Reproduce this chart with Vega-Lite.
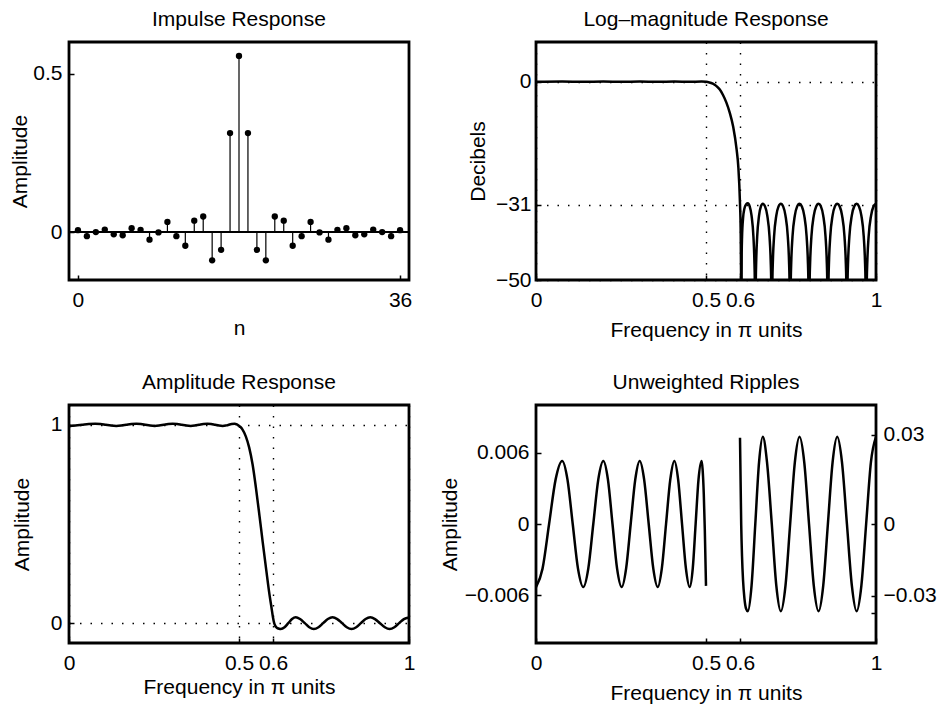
{
  "$schema": "https://vega.github.io/schema/vega-lite/v6.json",
  "padding": {"left": 8, "top": 7, "right": 5, "bottom": 2},
  "background": "white",
  "config": {
    "font": "Liberation Sans",
    "view": {"stroke": "black", "strokeWidth": 2.8},
    "axis": {
      "domain": false, "grid": false,
      "labelFont": "Liberation Sans", "labelFontSize": 21, "labelColor": "black",
      "titleFont": "Liberation Sans", "titleFontSize": 21, "titleFontWeight": "normal", "titleColor": "black",
      "tickColor": "black", "tickSize": -5, "tickWidth": 1.5,
      "labelFlush": false, "labelOverlap": false, "labelBound": false,
      "gridColor": "black", "gridDash": [1.5, 9], "gridOpacity": 1, "gridWidth": 1.4
    },
    "axisX": {"labelPadding": 14, "titleBaseline": "alphabetic"},
    "axisY": {"labelPadding": 12, "titleBaseline": "middle"},
    "title": {"font": "Liberation Sans", "fontSize": 21, "fontWeight": "normal", "color": "black", "anchor": "middle", "frame": "group", "offset": 12, "baseline": "alphabetic"}
  },
  "datasets": {
    "imp": [
      {"n":0,"h":0.007},{"n":1,"h":-0.012},{"n":2,"h":0.001},{"n":3,"h":0.009},{"n":4,"h":-0.006},{"n":5,"h":-0.009},
      {"n":6,"h":0.013},{"n":7,"h":0.008},{"n":8,"h":-0.023},{"n":9,"h":0.0},{"n":10,"h":0.033},{"n":11,"h":-0.012},
      {"n":12,"h":-0.042},{"n":13,"h":0.037},{"n":14,"h":0.05},{"n":15,"h":-0.088},{"n":16,"h":-0.055},{"n":17,"h":0.313},
      {"n":18,"h":0.556},{"n":19,"h":0.313},{"n":20,"h":-0.055},{"n":21,"h":-0.088},{"n":22,"h":0.05},{"n":23,"h":0.037},
      {"n":24,"h":-0.042},{"n":25,"h":-0.012},{"n":26,"h":0.033},{"n":27,"h":0.0},{"n":28,"h":-0.023},{"n":29,"h":0.008},
      {"n":30,"h":0.013},{"n":31,"h":-0.009},{"n":32,"h":-0.006},{"n":33,"h":0.009},{"n":34,"h":0.001},{"n":35,"h":-0.012},{"n":36,"h":0.007}
    ],
    "db": [
      {"w":0,"db":-0.046},{"w":0.077,"db":0.046},{"w":0.139,"db":-0.046},{"w":0.198,"db":0.046},{"w":0.252,"db":-0.046},
      {"w":0.305,"db":0.046},{"w":0.358,"db":-0.046},{"w":0.407,"db":0.046},{"w":0.452,"db":-0.046},{"w":0.487,"db":0.046},
      {"w":0.5,"db":-0.045},{"w":0.505,"db":-0.105},{"w":0.51,"db":-0.2},{"w":0.52,"db":-0.52},{"w":0.53,"db":-1.06},
      {"w":0.54,"db":-1.94},{"w":0.55,"db":-3.35},{"w":0.56,"db":-5.27},{"w":0.57,"db":-7.85},{"w":0.58,"db":-11.37},
      {"w":0.59,"db":-17.08},{"w":0.595,"db":-21.41},{"w":0.6,"db":-30.75},{"w":0.6018,"db":-36.8},{"w":0.603,"db":-47.7},
      {"w":0.6035,"db":-80},
      {"w":0.605,"db":-43.3},{"w":0.606,"db":-39.2},{"w":0.609,"db":-34.4},{"w":0.613,"db":-32.0},{"w":0.618,"db":-30.9},{"w":0.623,"db":-30.66},
      {"w":0.6285,"db":-31.44},{"w":0.634,"db":-33.76},{"w":0.6395,"db":-39.09},{"w":0.64225,"db":-44.95},{"w":0.64363,"db":-50.9},{"w":0.645,"db":-80},
      {"w":0.64638,"db":-50.9},{"w":0.64775,"db":-44.95},{"w":0.6505,"db":-39.09},{"w":0.656,"db":-33.76},{"w":0.6615,"db":-31.44},{"w":0.667,"db":-30.75},
      {"w":0.67363,"db":-31.44},{"w":0.68025,"db":-33.76},{"w":0.68688,"db":-39.09},{"w":0.69019,"db":-44.95},{"w":0.69184,"db":-50.9},{"w":0.6935,"db":-80},
      {"w":0.69516,"db":-50.9},{"w":0.69681,"db":-44.95},{"w":0.70013,"db":-39.09},{"w":0.70675,"db":-33.76},{"w":0.71338,"db":-31.44},{"w":0.72,"db":-30.75},
      {"w":0.72688,"db":-31.44},{"w":0.73375,"db":-33.76},{"w":0.74063,"db":-39.09},{"w":0.74406,"db":-44.95},{"w":0.74578,"db":-50.9},{"w":0.7475,"db":-80},
      {"w":0.74922,"db":-50.9},{"w":0.75094,"db":-44.95},{"w":0.75438,"db":-39.09},{"w":0.76125,"db":-33.76},{"w":0.76813,"db":-31.44},{"w":0.775,"db":-30.75},
      {"w":0.782,"db":-31.44},{"w":0.789,"db":-33.76},{"w":0.796,"db":-39.09},{"w":0.7995,"db":-44.95},{"w":0.80125,"db":-50.9},{"w":0.803,"db":-80},
      {"w":0.80475,"db":-50.9},{"w":0.8065,"db":-44.95},{"w":0.81,"db":-39.09},{"w":0.817,"db":-33.76},{"w":0.824,"db":-31.44},{"w":0.831,"db":-30.75},
      {"w":0.83788,"db":-31.44},{"w":0.84475,"db":-33.76},{"w":0.85163,"db":-39.09},{"w":0.85506,"db":-44.95},{"w":0.85678,"db":-50.9},{"w":0.8585,"db":-80},
      {"w":0.86022,"db":-50.9},{"w":0.86194,"db":-44.95},{"w":0.86538,"db":-39.09},{"w":0.87225,"db":-33.76},{"w":0.87913,"db":-31.44},{"w":0.886,"db":-30.75},
      {"w":0.89313,"db":-31.44},{"w":0.90025,"db":-33.76},{"w":0.90738,"db":-39.09},{"w":0.91094,"db":-44.95},{"w":0.91272,"db":-50.9},{"w":0.9145,"db":-80},
      {"w":0.91628,"db":-50.9},{"w":0.91806,"db":-44.95},{"w":0.92163,"db":-39.09},{"w":0.92875,"db":-33.76},{"w":0.93588,"db":-31.44},{"w":0.943,"db":-30.75},
      {"w":0.95,"db":-31.44},{"w":0.957,"db":-33.76},{"w":0.964,"db":-39.09},{"w":0.9675,"db":-44.95},{"w":0.96925,"db":-50.9},{"w":0.971,"db":-80},
      {"w":0.97281,"db":-50.9},{"w":0.97463,"db":-44.95},{"w":0.97825,"db":-39.09},{"w":0.9855,"db":-33.76},{"w":0.99275,"db":-31.44},{"w":1.0,"db":-30.75}
    ],
    "amp": [
      {"w":0,"a":0.9947},{"w":0.01925,"a":0.99625},{"w":0.0385,"a":1},{"w":0.05775,"a":1.00375},{"w":0.077,"a":1.0053},
      {"w":0.0925,"a":1.00375},{"w":0.108,"a":1},{"w":0.1235,"a":0.99625},{"w":0.139,"a":0.9947},
      {"w":0.15375,"a":0.99625},{"w":0.1685,"a":1},{"w":0.18325,"a":1.00375},{"w":0.198,"a":1.0053},
      {"w":0.2115,"a":1.00375},{"w":0.225,"a":1},{"w":0.2385,"a":0.99625},{"w":0.252,"a":0.9947},
      {"w":0.265,"a":0.99625},{"w":0.2785,"a":1},{"w":0.292,"a":1.00375},{"w":0.305,"a":1.0053},
      {"w":0.318,"a":1.00375},{"w":0.3315,"a":1},{"w":0.345,"a":0.99625},{"w":0.358,"a":0.9947},
      {"w":0.37,"a":0.99625},{"w":0.3825,"a":1},{"w":0.395,"a":1.00375},{"w":0.407,"a":1.0053},
      {"w":0.418,"a":1.00375},{"w":0.4295,"a":1},{"w":0.441,"a":0.99625},{"w":0.452,"a":0.9947},
      {"w":0.461,"a":0.99625},{"w":0.4695,"a":1},{"w":0.478,"a":1.00375},{"w":0.487,"a":1.0053},
      {"w":0.49,"a":1.0046},{"w":0.4935,"a":1.0025},{"w":0.4965,"a":0.9995},{"w":0.5,"a":0.9948},
      {"w":0.505,"a":0.988},{"w":0.51,"a":0.977},{"w":0.52,"a":0.942},{"w":0.53,"a":0.885},{"w":0.54,"a":0.8},
      {"w":0.55,"a":0.68},{"w":0.56,"a":0.545},{"w":0.57,"a":0.405},{"w":0.58,"a":0.27},{"w":0.59,"a":0.14},
      {"w":0.595,"a":0.085},{"w":0.6,"a":0.029},
      {"w":0.6035,"a":0},{"w":0.606,"a":-0.011},{"w":0.609,"a":-0.019},{"w":0.613,"a":-0.025},{"w":0.618,"a":-0.0285},{"w":0.623,"a":-0.0293},
      {"w":0.634,"a":-0.0207},{"w":0.645,"a":0},{"w":0.656,"a":0.0207},{"w":0.667,"a":0.0293},
      {"w":0.6795,"a":0.0207},{"w":0.6935,"a":0},{"w":0.7068,"a":-0.0207},{"w":0.72,"a":-0.0293},
      {"w":0.7338,"a":-0.0207},{"w":0.7475,"a":0},{"w":0.7613,"a":0.0207},{"w":0.775,"a":0.0293},
      {"w":0.789,"a":0.0207},{"w":0.803,"a":0},{"w":0.817,"a":-0.0207},{"w":0.831,"a":-0.0293},
      {"w":0.8448,"a":-0.0207},{"w":0.8585,"a":0},{"w":0.8723,"a":0.0207},{"w":0.886,"a":0.0293},
      {"w":0.9,"a":0.0207},{"w":0.9145,"a":0},{"w":0.929,"a":-0.0207},{"w":0.943,"a":-0.0293},
      {"w":0.957,"a":-0.0207},{"w":0.971,"a":0},{"w":0.985,"a":0.0207},{"w":1.0,"a":0.0293}
    ],
    "pb": [
      {"w":0,"e":-0.0053},{"w":0.01925,"e":-0.00375},{"w":0.0385,"e":0},{"w":0.05775,"e":0.00375},{"w":0.077,"e":0.0053},
      {"w":0.0925,"e":0.00375},{"w":0.108,"e":0},{"w":0.1235,"e":-0.00375},{"w":0.139,"e":-0.0053},
      {"w":0.15375,"e":-0.00375},{"w":0.1685,"e":0},{"w":0.18325,"e":0.00375},{"w":0.198,"e":0.0053},
      {"w":0.2115,"e":0.00375},{"w":0.225,"e":0},{"w":0.2385,"e":-0.00375},{"w":0.252,"e":-0.0053},
      {"w":0.265,"e":-0.00375},{"w":0.2785,"e":0},{"w":0.292,"e":0.00375},{"w":0.305,"e":0.0053},
      {"w":0.318,"e":0.00375},{"w":0.3315,"e":0},{"w":0.345,"e":-0.00375},{"w":0.358,"e":-0.0053},
      {"w":0.37,"e":-0.00375},{"w":0.3825,"e":0},{"w":0.395,"e":0.00375},{"w":0.407,"e":0.0053},
      {"w":0.418,"e":0.00375},{"w":0.4295,"e":0},{"w":0.441,"e":-0.00375},{"w":0.452,"e":-0.0053},
      {"w":0.461,"e":-0.00375},{"w":0.4695,"e":0},{"w":0.478,"e":0.00375},{"w":0.487,"e":0.0053},
      {"w":0.49,"e":0.0046},{"w":0.4935,"e":0.0025},{"w":0.4965,"e":-0.0005},{"w":0.5,"e":-0.0052}
    ],
    "sb": [
      {"w":0.6,"e":0.029},{"w":0.6035,"e":0},{"w":0.606,"e":-0.011},{"w":0.609,"e":-0.019},{"w":0.613,"e":-0.025},{"w":0.618,"e":-0.0285},{"w":0.623,"e":-0.0293},
      {"w":0.634,"e":-0.0207},{"w":0.645,"e":0},{"w":0.656,"e":0.0207},{"w":0.667,"e":0.0293},
      {"w":0.6795,"e":0.0207},{"w":0.6935,"e":0},{"w":0.7068,"e":-0.0207},{"w":0.72,"e":-0.0293},
      {"w":0.7338,"e":-0.0207},{"w":0.7475,"e":0},{"w":0.7613,"e":0.0207},{"w":0.775,"e":0.0293},
      {"w":0.789,"e":0.0207},{"w":0.803,"e":0},{"w":0.817,"e":-0.0207},{"w":0.831,"e":-0.0293},
      {"w":0.8448,"e":-0.0207},{"w":0.8585,"e":0},{"w":0.8723,"e":0.0207},{"w":0.886,"e":0.0293},
      {"w":0.9,"e":0.0207},{"w":0.9145,"e":0},{"w":0.929,"e":-0.0207},{"w":0.943,"e":-0.0293},
      {"w":0.957,"e":-0.0207},{"w":0.971,"e":0},{"w":0.985,"e":0.0207},{"w":1.0,"e":0.0293}
    ]
  },
  "columns": 2,
  "spacing": {"row": 125, "column": 127},
  "bounds": "flush",
  "concat": [
    {
      "width": 340, "height": 238,
      "title": {"text": "Impulse Response"},
      "data": {"name": "imp"},
      "layer": [
        {
          "mark": {"type": "rule", "color": "black", "strokeWidth": 1.3},
          "encoding": {
            "y": {"datum": 0, "type": "quantitative", "scale": {"domain": [-0.15, 0.6], "nice": false, "zero": false},
                  "axis": {"values": [0, 0.5], "format": ".6~g", "grid": false, "title": "Amplitude", "titleX": -48.5}}
          }
        },
        {
          "mark": {"type": "rule", "color": "black", "strokeWidth": 1.2},
          "encoding": {
            "x": {"field": "n", "type": "quantitative", "scale": {"domain": [-1, 37], "nice": false, "zero": false},
                  "axis": {"values": [0, 36], "format": ".6~g", "grid": false, "title": "n", "titleY": 54}},
            "y": {"field": "h", "type": "quantitative", "scale": {"domain": [-0.15, 0.6], "nice": false, "zero": false},
                  "axis": {"values": [0, 0.5], "format": ".6~g", "grid": false, "title": "Amplitude", "titleX": -48.5}},
            "y2": {"datum": 0}
          }
        },
        {
          "mark": {"type": "point", "filled": true, "color": "black", "size": 40, "opacity": 1},
          "encoding": {
            "x": {"field": "n", "type": "quantitative", "axis": {"values": [0, 36], "format": ".6~g", "grid": false, "title": "n", "titleY": 54}},
            "y": {"field": "h", "type": "quantitative", "axis": {"values": [0, 0.5], "format": ".6~g", "grid": false, "title": "Amplitude", "titleX": -48.5}}
          }
        }
      ]
    },
    {
      "width": 340, "height": 238,
      "title": {"text": "Log–magnitude Response"},
      "data": {"name": "db"},
      "mark": {"type": "line", "color": "black", "strokeWidth": 2.5, "interpolate": "monotone", "clip": true},
      "encoding": {
        "x": {"field": "w", "type": "quantitative", "scale": {"domain": [0, 1], "nice": false},
              "axis": {"values": [0, 0.5, 0.6, 1], "format": ".6~g", "grid": true, "title": "Frequency in π units", "titleY": 56}},
        "y": {"field": "db", "type": "quantitative", "scale": {"domain": [-50, 10], "nice": false, "zero": false},
              "axis": {"values": [-50, -31, 0], "format": ".6~g", "grid": true, "title": "Decibels", "titleX": -58, "labelPadding": 10}}
      }
    },
    {
      "width": 340, "height": 238,
      "title": {"text": "Amplitude Response"},
      "data": {"name": "amp"},
      "mark": {"type": "line", "color": "black", "strokeWidth": 2.5, "interpolate": "monotone", "clip": true},
      "encoding": {
        "x": {"field": "w", "type": "quantitative", "scale": {"domain": [0, 1], "nice": false},
              "axis": {"values": [0, 0.5, 0.6, 1], "format": ".6~g", "grid": true, "title": "Frequency in π units", "titleY": 50}},
        "y": {"field": "a", "type": "quantitative", "scale": {"domain": [-0.1, 1.1], "nice": false, "zero": false},
              "axis": {"values": [0, 1], "format": ".6~g", "grid": true, "title": "Amplitude", "titleX": -46.5}}
      }
    },
    {
      "width": 340, "height": 238,
      "title": {"text": "Unweighted Ripples"},
      "layer": [
        {
          "data": {"name": "pb"},
          "mark": {"type": "line", "color": "black", "strokeWidth": 2.5, "interpolate": "monotone", "clip": true},
          "encoding": {
            "x": {"field": "w", "type": "quantitative", "scale": {"domain": [0, 1], "nice": false},
                  "axis": {"values": [0, 0.5, 0.6, 1], "format": ".6~g", "grid": false, "title": "Frequency in π units", "titleY": 56.5}},
            "y": {"field": "e", "type": "quantitative", "scale": {"domain": [-0.01, 0.01], "nice": false, "zero": false},
                  "axis": {"values": [-0.006, 0, 0.006], "format": ".6~g", "grid": false, "title": "Amplitude", "titleX": -86}}
          }
        },
        {
          "data": {"name": "sb"},
          "mark": {"type": "line", "color": "black", "strokeWidth": 2.5, "interpolate": "monotone", "clip": true},
          "encoding": {
            "x": {"field": "w", "type": "quantitative", "axis": {"values": [0, 0.5, 0.6, 1], "format": ".6~g", "grid": false, "title": "Frequency in π units", "titleY": 56.5}},
            "y": {"field": "e", "type": "quantitative", "scale": {"domain": [-0.04, 0.04], "nice": false, "zero": false},
                  "axis": {"orient": "right", "values": [0.03, 0, -0.0242, -0.03], "grid": false, "title": null,
                           "labelExpr": "datum.value > 0.02 ? '0.03' : datum.value == 0 ? '0' : datum.value > -0.025 ? '−0.03' : ''"}}
          }
        }
      ],
      "resolve": {"scale": {"y": "independent"}}
    }
  ]
}
